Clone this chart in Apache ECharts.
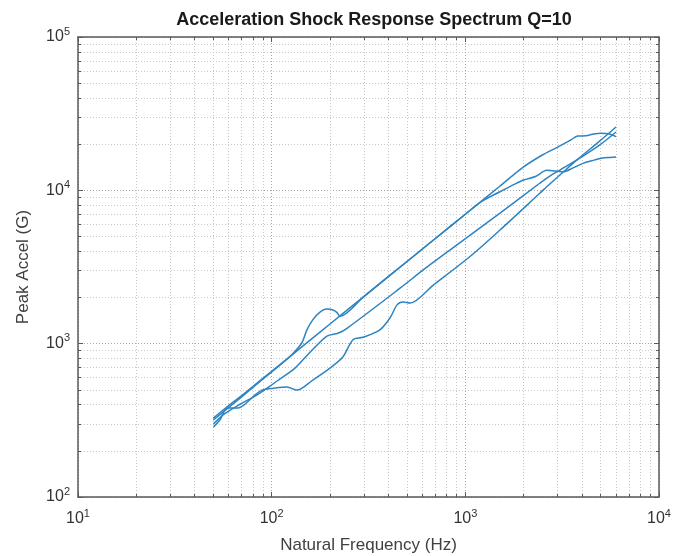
<!DOCTYPE html>
<html>
<head>
<meta charset="utf-8">
<script src="https://cdn.jsdelivr.net/npm/echarts@6/dist/echarts.min.js"></script>
<style>
  html, body { margin: 0; padding: 0; background: #fff; }
  #view { width: 673px; height: 556px; }
</style>
</head>
<body>
<div id="view"></div>
<script>
var myChart = echarts.init(document.getElementById('view'));

/* SRS curves, natural frequency (Hz) vs peak accel (G) */
var freq1 = [50, 60, 70, 85, 100, 150, 200, 300, 500, 700, 1000, 1500, 2000, 2500, 3000, 3500, 3800, 4200, 4600, 5000, 5500, 6000];
var accel1 = [327, 395, 458, 560, 659, 1000, 1343, 2036, 3436, 4850, 6980, 10590, 14220, 17000, 19140, 21300, 22600, 22700, 23300, 23600, 23400, 22400];

var freq2 = [50, 60, 70, 85, 100, 125, 143, 152, 163, 177, 193, 207, 217, 225, 300, 500, 700, 1000, 1200, 1500, 1800, 2000, 2300, 2640, 3190, 3600, 4050, 4500, 5130, 5600, 6000];
var accel2 = [318, 384, 450, 552, 655, 830, 1010, 1230, 1430, 1600, 1680, 1660, 1600, 1510, 2036, 3436, 4850, 6980, 8390, 9750, 10980, 11670, 12300, 13500, 13200, 14000, 15000, 15600, 16250, 16400, 16500];

var freq3 = [50, 57, 69, 82, 98, 110, 132, 158, 193, 220, 245, 460, 604, 832, 1510, 2430, 2730, 3080, 3770, 4950, 6000];
var accel3 = [299, 348, 404, 455, 529, 587, 693, 880, 1120, 1170, 1260, 2300, 3020, 4080, 7110, 11160, 12390, 13560, 15780, 19770, 24000];

var freq4 = [50, 54, 59, 67, 73, 82, 89, 104, 120, 135, 163, 200, 233, 263, 296, 362, 408, 444, 476, 518, 681, 1057, 1510, 2430, 2730, 3080, 3770, 4950, 6000];
var accel4 = [286, 318, 380, 380, 404, 462, 498, 513, 521, 498, 579, 693, 818, 1060, 1100, 1230, 1470, 1790, 1870, 1840, 2400, 3700, 5510, 9600, 11000, 12600, 15800, 21000, 25900];

var xRange = [10, 10000];
var yRange = [100, 100000];

var font = 'Liberation Sans, Arial, Helvetica, sans-serif';
var axisColor = '#5a5a5a';
var lineColor = '#2e84c2';

function pairs(xs, ys) {
    return xs.map(function (x, i) { return [x, ys[i]]; });
}

// 10^n labels
function powLabel(v) {
    var e = Math.round(Math.log(v) / Math.LN10);
    return '{b|10}{s|' + e + '}';
}
var powRich = {
    b: { fontSize: 16, color: '#333', fontFamily: font, lineHeight: 22 },
    s: { fontSize: 11, color: '#333', fontFamily: font, verticalAlign: 'top', lineHeight: 22, padding: [0, 0, 8, 0] }
};

function logAxis(range, pos, main) {
    return {
        type: 'log',
        logBase: 10,
        min: range[0],
        max: range[1],
        position: pos,
        axisLine: { show: true, lineStyle: { color: axisColor, width: 1.5 } },
        axisTick: { show: true, inside: true, length: 5, lineStyle: { color: axisColor, width: 1 } },
        minorTick: { show: true, splitNumber: 9, length: 3, lineStyle: { color: axisColor, width: 1 } },
        splitLine: { show: main, lineStyle: { color: '#a8a8a8', type: [1, 2], width: 1 } },
        minorSplitLine: { show: main, lineStyle: { color: '#c8c8c8', type: [1, 2], width: 1 } },
        axisLabel: main ? { formatter: powLabel, rich: powRich, margin: pos === 'bottom' ? 11 : 8 } : { show: false }
    };
}

var xMain = logAxis(xRange, 'bottom', true);
xMain.name = 'Natural Frequency (Hz)';
xMain.nameLocation = 'middle';
xMain.nameGap = 40;
xMain.nameTextStyle = { fontSize: 17, color: '#404040', fontFamily: font };

var yMain = logAxis(yRange, 'left', true);
yMain.name = 'Peak Accel (G)';
yMain.nameLocation = 'middle';
yMain.nameGap = 46;
yMain.nameTextStyle = { fontSize: 17, color: '#404040', fontFamily: font };

var curves = [[freq1, accel1], [freq2, accel2], [freq3, accel3], [freq4, accel4]];

var option = {
    backgroundColor: '#fff',
    animation: false,
    title: {
        text: 'Acceleration Shock Response Spectrum Q=10',
        left: 369,
        textAlign: 'center',
        top: 6,
        textStyle: { fontSize: 18, fontWeight: 'bold', color: '#1a1a1a', fontFamily: font }
    },
    grid: { left: 78, right: 14, top: 37, bottom: 59, containLabel: false, outerBoundsMode: 'none' },
    xAxis: [xMain, logAxis(xRange, 'top', false)],
    yAxis: [yMain, logAxis(yRange, 'right', false)],
    series: curves.map(function (c) {
        return {
            type: 'line',
            data: pairs(c[0], c[1]),
            showSymbol: false,
            smooth: 0.3,
            lineStyle: { color: lineColor, width: 1.5 },
            xAxisIndex: 0,
            yAxisIndex: 0
        };
    })
};

myChart.setOption(option);
</script>
</body>
</html>
